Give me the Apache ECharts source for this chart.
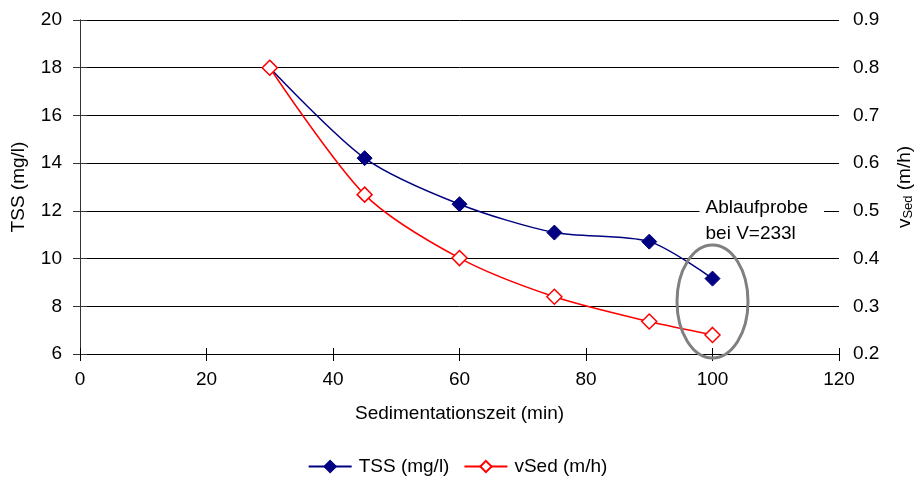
<!DOCTYPE html>
<html>
<head>
<meta charset="utf-8">
<script src="https://cdn.jsdelivr.net/npm/echarts@6/dist/echarts.min.js"></script>
<style>
  html, body { margin: 0; padding: 0; background: #fff; overflow: hidden; }
  #chart { width: 915px; height: 477px; }
</style>
</head>
<body>
<div id="chart"></div>
<script>
// Sedimentation time (min)
const times = [30, 45, 60, 75, 90, 100];
// Total suspended solids (mg/l), left axis
const tss = [18.0, 14.21, 12.28, 11.09, 10.71, 9.16];
// Settling velocity vSed (m/h), right axis
const vsed = [0.80, 0.534, 0.401, 0.320, 0.268, 0.240];

const leftTicks = { min: 6, max: 20, interval: 2 };
const rightTicks = { min: 0.2, max: 0.9, interval: 0.1 };
const xTicks = { min: 0, max: 120, interval: 20 };

const FONT = '"Liberation Sans", Arial, sans-serif';
const FS = 19;

const chart = echarts.init(document.getElementById('chart'));

const baseText = { fontFamily: FONT, fontSize: FS, color: '#000' };

chart.setOption({
  animation: false,
  backgroundColor: '#fff',
  grid: { left: 80, right: 76, top: 20, bottom: 123, containLabel: false, outerBoundsMode: 'none' },
  legend: {
    top: 452,
    left: 'center',
    itemWidth: 43,
    itemHeight: 14,
    itemGap: 14,
    textStyle: { ...baseText, padding: [0, 0, 0, 2] },
    data: ['TSS (mg/l)', 'vSed (m/h)']
  },
  xAxis: [
    {
      type: 'value',
      min: xTicks.min, max: xTicks.max, interval: xTicks.interval,
      name: 'Sedimentationszeit (min)',
      nameLocation: 'middle',
      nameGap: 50,
      nameTextStyle: { ...baseText },
      axisLine: { lineStyle: { color: '#000', width: 1 } },
      axisTick: { show: true, length: 7, lineStyle: { color: '#000' } },
      axisLabel: { ...baseText, margin: 16 },
      splitLine: { show: false }
    },
    {
      // inner half of the crossing tick marks on the time axis
      type: 'value', position: 'bottom',
      min: xTicks.min, max: xTicks.max, interval: xTicks.interval,
      axisLine: { show: false },
      axisTick: { show: true, inside: true, length: 6, lineStyle: { color: '#000' } },
      axisLabel: { show: false },
      splitLine: { show: false }
    }
  ],
  yAxis: [
    {
      type: 'value',
      min: leftTicks.min, max: leftTicks.max, interval: leftTicks.interval,
      name: 'TSS (mg/l)',
      nameLocation: 'middle',
      nameGap: 52,
      nameRotate: 90,
      nameTextStyle: { ...baseText },
      axisLine: { show: true, lineStyle: { color: '#333', width: 1 } },
      axisTick: { show: true, length: 7, lineStyle: { color: '#333' } },
      axisLabel: { ...baseText, margin: 18 },
      splitLine: { show: true, lineStyle: { color: '#000', width: 1 } }
    },
    {
      type: 'value',
      position: 'right',
      min: rightTicks.min, max: rightTicks.max, interval: rightTicks.interval,
      name: '{v|v}{s|Sed}{v| (m/h)}',
      nameLocation: 'middle',
      nameGap: 56,
      nameRotate: 90,
      nameTextStyle: {
        rich: {
          v: { fontFamily: FONT, fontSize: FS, color: '#000' },
          s: { fontFamily: FONT, fontSize: 13, color: '#000', padding: [0, 0, -7, 0] }
        }
      },
      axisLine: { show: true, lineStyle: { color: '#333', width: 1 } },
      axisTick: { show: true, length: 7, lineStyle: { color: '#333' } },
      axisLabel: { ...baseText, margin: 14, formatter: v => v.toFixed(1) },
      splitLine: { show: false }
    }
  ],
  series: [
    {
      name: 'TSS (mg/l)',
      type: 'line',
      xAxisIndex: 0, yAxisIndex: 0,
      data: times.map((t, i) => [t, tss[i]]),
      smooth: 0.28,
      symbol: 'diamond',
      symbolSize: 15,
      lineStyle: { color: '#000080', width: 1.5 },
      itemStyle: { color: '#000080', borderColor: '#000080', borderWidth: 1 },
      z: 3
    },
    {
      name: 'vSed (m/h)',
      type: 'line',
      xAxisIndex: 0, yAxisIndex: 1,
      data: times.map((t, i) => [t, vsed[i]]),
      smooth: 0.28,
      symbol: 'diamond',
      symbolSize: 15,
      lineStyle: { color: '#ff0000', width: 1.5 },
      itemStyle: { color: '#ffffff', borderColor: '#ff0000', borderWidth: 1.5 },
      z: 4
    }
  ]
});

// Annotation for the outflow sample: ellipse around the last time step plus a label
function placeAnnotation() {
  const c = chart.convertToPixel({ xAxisIndex: 0, yAxisIndex: 0 }, [100, 8.2]);
  const lbl = chart.convertToPixel({ xAxisIndex: 0, yAxisIndex: 0 }, [100, 12]);
  chart.setOption({
    graphic: [
      {
        type: 'text',
        x: lbl[0] - 13,
        y: lbl[1] - 16,
        z: 20,
        style: {
          text: 'Ablaufprobe\nbei V=233l',
          font: FS + 'px ' + FONT,
          fill: '#000',
          lineHeight: 26,
          backgroundColor: '#fff',
          padding: [0, 16, 0, 6]
        }
      },
      {
        type: 'ellipse',
        z: 21,
        shape: { cx: c[0], cy: c[1], rx: 35.5, ry: 56.5 },
        style: { fill: 'none', stroke: '#808080', lineWidth: 3 }
      }
    ]
  });
}
placeAnnotation();
</script>
</body>
</html>
